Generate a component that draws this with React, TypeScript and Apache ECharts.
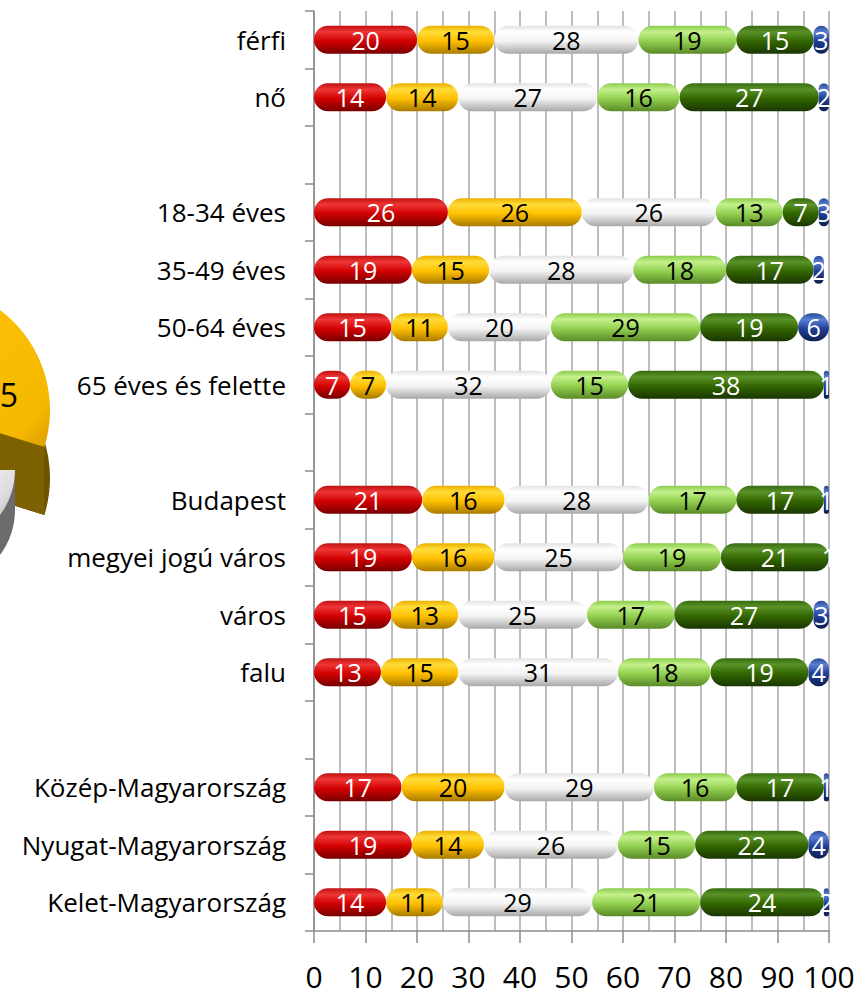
import React, { useEffect, useRef } from "react";
import * as echarts from "echarts";

const categories = [
  "férfi", "nő", " ",
  "18-34 éves", "35-49 éves", "50-64 éves", "65 éves és felette", "  ",
  "Budapest", "megyei jogú város", "város", "falu", "   ",
  "Közép-Magyarország", "Nyugat-Magyarország", "Kelet-Magyarország",
];

const s1 = [20, 14, null, 26, 19, 15, 7, null, 21, 19, 15, 13, null, 17, 19, 14];
const s2 = [15, 14, null, 26, 15, 11, 7, null, 16, 16, 13, 15, null, 20, 14, 11];
const s3 = [28, 27, null, 26, 28, 20, 32, null, 28, 25, 25, 31, null, 29, 26, 29];
const s4 = [19, 16, null, 13, 18, 29, 15, null, 17, 19, 17, 18, null, 16, 15, 21];
const s5 = [15, 27, null, 7, 17, 19, 38, null, 17, 21, 27, 19, null, 17, 22, 24];
const s6 = [3, 2, null, 3, 2, 6, 1, null, 1, 1, 3, 4, null, 1, 4, 2];

const xTicks = [0, 10, 20, 30, 40, 50, 60, 70, 80, 90, 100];

const FONT = "'Open Sans', 'DejaVu Sans', sans-serif";

function grad(c0: string, c1: string, c2: string, c3: string) {
  return new echarts.graphic.LinearGradient(0, 0, 0, 1, [
    { offset: 0, color: c0 },
    { offset: 0.22, color: c1 },
    { offset: 0.55, color: c2 },
    { offset: 1, color: c3 },
  ]);
}

export default function App() {
  const ref = useRef<HTMLDivElement>(null);

  useEffect(() => {
    document.body.style.margin = "0";
    const chart = echarts.init(ref.current!, undefined, { renderer: "svg" });

    const seriesDefs = [
      { name: "1", data: s1, fill: grad("#c01010", "#ee3636", "#d20000", "#760000"), label: "#ffffff" },
      { name: "2", data: s2, fill: grad("#eab000", "#ffdc38", "#ffc000", "#a87a00"), label: "#000000" },
      { name: "3", data: s3, fill: grad("#e2e2e2", "#ffffff", "#f3f3f3", "#a8a8a8"), label: "#000000" },
      { name: "4", data: s4, fill: grad("#8acb4a", "#c4f08c", "#92d050", "#5a8a28"), label: "#000000" },
      { name: "5", data: s5, fill: grad("#376a10", "#5a9228", "#336600", "#1a3602"), label: "#ffffff" },
      { name: "6", data: s6, fill: grad("#284898", "#5a7fd0", "#213f99", "#0e1e4e"), label: "#ffffff" },
    ];

    const option: any = {
      animation: false,
      backgroundColor: "#ffffff",
      grid: { left: 314, right: 33, top: 11, bottom: 66, containLabel: false },
      xAxis: {
        type: "value",
        min: 0,
        max: 100,
        interval: 10,
        axisLine: { show: true, lineStyle: { color: "#8c8c8c", width: 1.5 } },
        axisTick: { show: true, length: 12, lineStyle: { color: "#8c8c8c", width: 1.5 } },
        axisLabel: {
          color: "#000",
          fontSize: 30,
          fontFamily: FONT,
          margin: 30,
          formatter: (v: number) => (xTicks.includes(v) ? String(v) : ""),
        },
        splitLine: { show: true, lineStyle: { color: "#bdbdbd", width: 2 } },
        minorTick: { show: false, splitNumber: 2 },
        minorSplitLine: { show: true, lineStyle: { color: "#bdbdbd", width: 2 } },
      },
      yAxis: {
        type: "category",
        inverse: true,
        data: categories,
        axisLine: { show: true, lineStyle: { color: "#8c8c8c", width: 1.5 } },
        axisTick: { show: true, length: 9, alignWithLabel: false, lineStyle: { color: "#8c8c8c", width: 1.5 } },
        axisLabel: { color: "#000", fontSize: 26, fontFamily: FONT, margin: 28 },
        splitLine: { show: false },
      },
      series: seriesDefs.map((d) => ({
        name: d.name,
        type: "bar",
        stack: "total",
        barWidth: 28,
        clip: true,
        data: d.data,
        itemStyle: { color: d.fill, borderRadius: 14 },
        label: {
          show: true,
          position: "inside",
          color: d.label,
          fontSize: 25,
          fontFamily: FONT,
          formatter: (p: any) => (p.value == null ? "" : String(p.value)),
        },
      })),
      graphic: [
        {
          type: "sector",
          shape: { cx: -75, cy: 478, r: 125, r0: 0, startAngle: -1.2, endAngle: 0.3 },
          style: { fill: "#6e5400" },
        },
        {
          type: "polygon",
          shape: { points: [[-75, 410], [44.4, 447], [44.4, 515], [-75, 478]] },
          style: { fill: "#7d6000" },
        },
        {
          type: "sector",
          shape: { cx: -75, cy: 410, r: 125, r0: 0, startAngle: -1.7, endAngle: 0.3 },
          style: {
            fill: new echarts.graphic.LinearGradient(0, 0, 1, 1, [
              { offset: 0, color: "#ffc60a" },
              { offset: 0.85, color: "#f5b800" },
              { offset: 1, color: "#d99e00" },
            ]),
          },
        },
        {
          type: "sector",
          shape: { cx: -60, cy: 510, r: 75, r0: 0, startAngle: 0, endAngle: 1.6 },
          style: { fill: "#6c6c6c" },
        },
        {
          type: "rect",
          shape: { x: -60, y: 470, width: 75, height: 40 },
          style: { fill: "#6c6c6c" },
        },
        {
          type: "sector",
          shape: { cx: -60, cy: 470, r: 75, r0: 0, startAngle: 0, endAngle: 1.6 },
          style: {
            fill: new echarts.graphic.LinearGradient(0, 0, 1, 1, [
              { offset: 0, color: "#ffffff" },
              { offset: 0.6, color: "#dcdcdc" },
              { offset: 1, color: "#a0a0a0" },
            ]),
          },
        },
        {
          type: "text",
          x: 9,
          y: 394,
          style: {
            text: "5",
            fontSize: 32,
            fontFamily: FONT,
            fill: "#000",
            align: "center",
            verticalAlign: "middle",
          },
        },
      ],
    };

    chart.setOption(option);
    return () => chart.dispose();
  }, []);

  return <div ref={ref} style={{ width: 862, height: 997 }} />;
}
